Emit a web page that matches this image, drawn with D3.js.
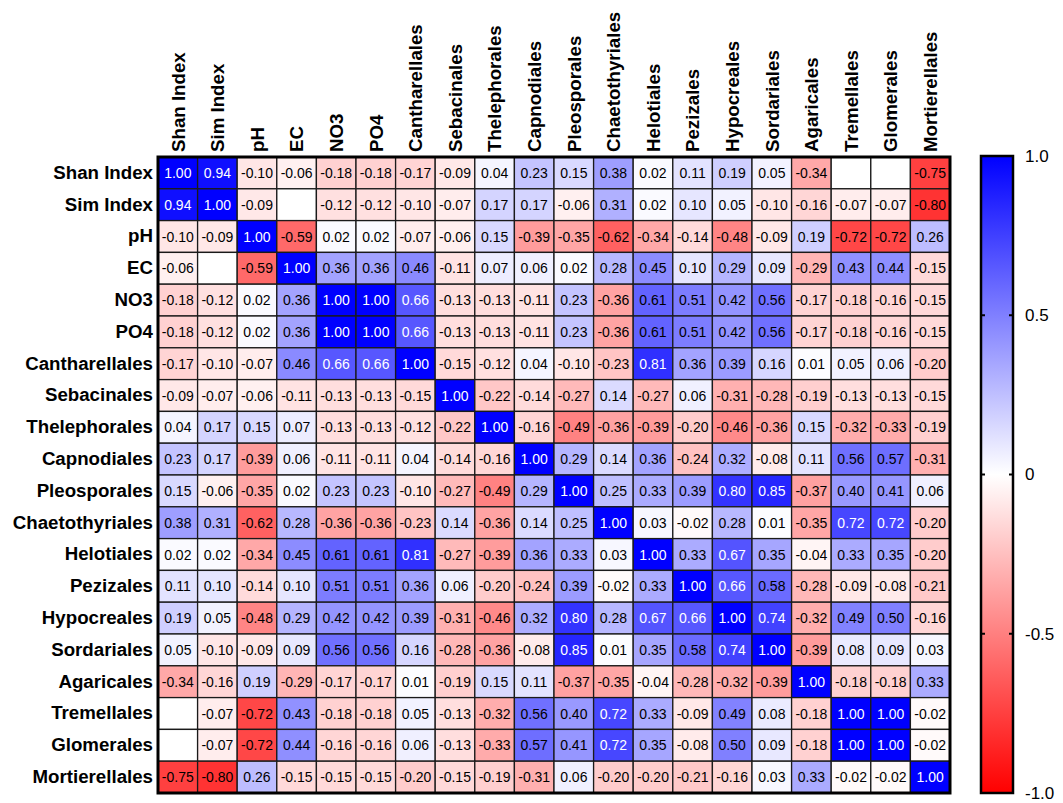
<!DOCTYPE html>
<html>
<head>
<meta charset="utf-8">
<script src="https://cdn.jsdelivr.net/npm/d3@7"></script>
<style>
  body { margin: 0; background: #fff; }
  text { font-family: "Liberation Sans", Arial, sans-serif; }
</style>
</head>
<body>
<div id="chart"></div>
<script>
(function(){

  // variable names (rows and columns are in the same order)
  const labels = ["Shan Index", "Sim Index", "pH", "EC", "NO3", "PO4", "Cantharellales",
    "Sebacinales", "Thelephorales", "Capnodiales", "Pleosporales", "Chaetothyriales",
    "Helotiales", "Pezizales", "Hypocreales", "Sordariales", "Agaricales",
    "Tremellales", "Glomerales", "Mortierellales"];

  // correlation rows (null = blank cell)
  const shanIndex      = [1.00, 0.94, -0.10, -0.06, -0.18, -0.18, -0.17, -0.09, 0.04, 0.23, 0.15, 0.38, 0.02, 0.11, 0.19, 0.05, -0.34, null, null, -0.75];
  const simIndex       = [0.94, 1.00, -0.09, null, -0.12, -0.12, -0.10, -0.07, 0.17, 0.17, -0.06, 0.31, 0.02, 0.10, 0.05, -0.10, -0.16, -0.07, -0.07, -0.80];
  const pH             = [-0.10, -0.09, 1.00, -0.59, 0.02, 0.02, -0.07, -0.06, 0.15, -0.39, -0.35, -0.62, -0.34, -0.14, -0.48, -0.09, 0.19, -0.72, -0.72, 0.26];
  const ec             = [-0.06, null, -0.59, 1.00, 0.36, 0.36, 0.46, -0.11, 0.07, 0.06, 0.02, 0.28, 0.45, 0.10, 0.29, 0.09, -0.29, 0.43, 0.44, -0.15];
  const no3            = [-0.18, -0.12, 0.02, 0.36, 1.00, 1.00, 0.66, -0.13, -0.13, -0.11, 0.23, -0.36, 0.61, 0.51, 0.42, 0.56, -0.17, -0.18, -0.16, -0.15];
  const po4            = [-0.18, -0.12, 0.02, 0.36, 1.00, 1.00, 0.66, -0.13, -0.13, -0.11, 0.23, -0.36, 0.61, 0.51, 0.42, 0.56, -0.17, -0.18, -0.16, -0.15];
  const cantharellales = [-0.17, -0.10, -0.07, 0.46, 0.66, 0.66, 1.00, -0.15, -0.12, 0.04, -0.10, -0.23, 0.81, 0.36, 0.39, 0.16, 0.01, 0.05, 0.06, -0.20];
  const sebacinales    = [-0.09, -0.07, -0.06, -0.11, -0.13, -0.13, -0.15, 1.00, -0.22, -0.14, -0.27, 0.14, -0.27, 0.06, -0.31, -0.28, -0.19, -0.13, -0.13, -0.15];
  const thelephorales  = [0.04, 0.17, 0.15, 0.07, -0.13, -0.13, -0.12, -0.22, 1.00, -0.16, -0.49, -0.36, -0.39, -0.20, -0.46, -0.36, 0.15, -0.32, -0.33, -0.19];
  const capnodiales    = [0.23, 0.17, -0.39, 0.06, -0.11, -0.11, 0.04, -0.14, -0.16, 1.00, 0.29, 0.14, 0.36, -0.24, 0.32, -0.08, 0.11, 0.56, 0.57, -0.31];
  const pleosporales   = [0.15, -0.06, -0.35, 0.02, 0.23, 0.23, -0.10, -0.27, -0.49, 0.29, 1.00, 0.25, 0.33, 0.39, 0.80, 0.85, -0.37, 0.40, 0.41, 0.06];
  const chaetothyriales= [0.38, 0.31, -0.62, 0.28, -0.36, -0.36, -0.23, 0.14, -0.36, 0.14, 0.25, 1.00, 0.03, -0.02, 0.28, 0.01, -0.35, 0.72, 0.72, -0.20];
  const helotiales     = [0.02, 0.02, -0.34, 0.45, 0.61, 0.61, 0.81, -0.27, -0.39, 0.36, 0.33, 0.03, 1.00, 0.33, 0.67, 0.35, -0.04, 0.33, 0.35, -0.20];
  const pezizales      = [0.11, 0.10, -0.14, 0.10, 0.51, 0.51, 0.36, 0.06, -0.20, -0.24, 0.39, -0.02, 0.33, 1.00, 0.66, 0.58, -0.28, -0.09, -0.08, -0.21];
  const hypocreales    = [0.19, 0.05, -0.48, 0.29, 0.42, 0.42, 0.39, -0.31, -0.46, 0.32, 0.80, 0.28, 0.67, 0.66, 1.00, 0.74, -0.32, 0.49, 0.50, -0.16];
  const sordariales    = [0.05, -0.10, -0.09, 0.09, 0.56, 0.56, 0.16, -0.28, -0.36, -0.08, 0.85, 0.01, 0.35, 0.58, 0.74, 1.00, -0.39, 0.08, 0.09, 0.03];
  const agaricales     = [-0.34, -0.16, 0.19, -0.29, -0.17, -0.17, 0.01, -0.19, 0.15, 0.11, -0.37, -0.35, -0.04, -0.28, -0.32, -0.39, 1.00, -0.18, -0.18, 0.33];
  const tremellales    = [null, -0.07, -0.72, 0.43, -0.18, -0.18, 0.05, -0.13, -0.32, 0.56, 0.40, 0.72, 0.33, -0.09, 0.49, 0.08, -0.18, 1.00, 1.00, -0.02];
  const glomerales     = [null, -0.07, -0.72, 0.44, -0.16, -0.16, 0.06, -0.13, -0.33, 0.57, 0.41, 0.72, 0.35, -0.08, 0.50, 0.09, -0.18, 1.00, 1.00, -0.02];
  const mortierellales = [-0.75, -0.80, 0.26, -0.15, -0.15, -0.15, -0.20, -0.15, -0.19, -0.31, 0.06, -0.20, -0.20, -0.21, -0.16, 0.03, 0.33, -0.02, -0.02, 1.00];

  const colorTicks = [1, 0.5, 0, -0.5, -1];
  const colorTickLabels = ["1.0", "0.5", "0", "-0.5", "-1.0"];

  const matrix = [shanIndex, simIndex, pH, ec, no3, po4, cantharellales, sebacinales,
    thelephorales, capnodiales, pleosporales, chaetothyriales, helotiales, pezizales,
    hypocreales, sordariales, agaricales, tremellales, glomerales, mortierellales];

  const cells = [];
  matrix.forEach((row, i) => row.forEach((v, j) => {
    cells.push({ row: labels[i], col: labels[j], value: v });
  }));

  const W = 1063, H = 803;
  const left = 158, right = 950, top = 157, bottom = 793;

  const svg = d3.select("#chart").append("svg")
    .attr("width", W)
    .attr("height", H);

  svg.append("rect").attr("width", W).attr("height", H).attr("fill", "#fff");

  const x = d3.scaleBand().domain(labels).range([left, right]);
  const y = d3.scaleBand().domain(labels).range([top, bottom]);
  const color = d3.scaleLinear().domain([-1, 0, 1]).range(["#ff0000", "#ffffff", "#0000ff"]);

  // cells
  const cell = svg.append("g").selectAll("g")
    .data(cells)
    .join("g")
    .attr("transform", d => `translate(${x(d.col)},${y(d.row)})`);

  cell.append("rect")
    .attr("width", x.bandwidth())
    .attr("height", y.bandwidth())
    .attr("fill", d => d.value == null ? "#fff" : color(d.value))
    .attr("stroke", "#1a1a1a")
    .attr("stroke-width", 1.3);

  cell.filter(d => d.value != null).append("text")
    .attr("x", x.bandwidth() / 2)
    .attr("y", y.bandwidth() / 2)
    .attr("dy", "0.36em")
    .attr("text-anchor", "middle")
    .attr("font-size", "14px")
    .attr("fill", d => d.value > 0.63 ? "#fff" : "#000")
    .text(d => d.value.toFixed(2));

  // frame
  svg.append("rect")
    .attr("x", left).attr("y", top)
    .attr("width", right - left).attr("height", bottom - top)
    .attr("fill", "none")
    .attr("stroke", "#000")
    .attr("stroke-width", 3);

  // row labels
  const yAxis = svg.append("g")
    .attr("transform", `translate(${left - 3},0)`)
    .call(d3.axisLeft(y).tickSize(0).tickPadding(2));
  yAxis.select(".domain").remove();
  yAxis.selectAll("text")
    .attr("font-size", "18.7px")
    .attr("font-weight", "bold")
    .attr("fill", "#000")
    .style("font-family", "'Liberation Sans', Arial, sans-serif");

  // column labels
  const xAxis = svg.append("g")
    .attr("transform", `translate(0,${top - 3})`)
    .call(d3.axisTop(x).tickSize(0));
  xAxis.select(".domain").remove();
  xAxis.selectAll("text")
    .attr("transform", "rotate(-90)")
    .attr("x", 2)
    .attr("y", 0)
    .attr("dy", "0.36em")
    .attr("text-anchor", "start")
    .attr("font-size", "18.7px")
    .attr("font-weight", "bold")
    .attr("fill", "#000")
    .style("font-family", "'Liberation Sans', Arial, sans-serif");

  // colour bar
  const barX = 981, barW = 32, barTop = 156, barBottom = 793;
  const cy = d3.scaleLinear().domain([-1, 1]).range([barBottom, barTop]);

  const grad = svg.append("defs").append("linearGradient")
    .attr("id", "cbar")
    .attr("x1", 0).attr("y1", 1).attr("x2", 0).attr("y2", 0);
  [-1, 0, 1].forEach(v => {
    grad.append("stop")
      .attr("offset", (v + 1) / 2)
      .attr("stop-color", color(v));
  });

  svg.append("rect")
    .attr("x", barX).attr("y", barTop)
    .attr("width", barW).attr("height", barBottom - barTop)
    .attr("fill", "url(#cbar)")
    .attr("stroke", "#000")
    .attr("stroke-width", 2.5);

  // short tick marks on both inner edges
  const inner = colorTicks.filter(v => Math.abs(v) < 1);
  svg.append("g").selectAll("line")
    .data(inner.flatMap(v => [[v, barX, barX + 4], [v, barX + barW - 4, barX + barW]]))
    .join("line")
    .attr("x1", d => d[1]).attr("x2", d => d[2])
    .attr("y1", d => cy(d[0])).attr("y2", d => cy(d[0]))
    .attr("stroke", "#000")
    .attr("stroke-width", 2);

  const cAxis = svg.append("g")
    .attr("transform", `translate(${barX + barW},0)`)
    .call(d3.axisRight(cy)
      .tickValues(colorTicks)
      .tickSize(0)
      .tickPadding(12)
      .tickFormat((d, i) => colorTickLabels[i]));
  cAxis.select(".domain").remove();
  cAxis.selectAll("text")
    .attr("font-size", "17px")
    .attr("fill", "#000")
    .style("font-family", "'Liberation Sans', Arial, sans-serif");

})();
</script>
</body>
</html>
